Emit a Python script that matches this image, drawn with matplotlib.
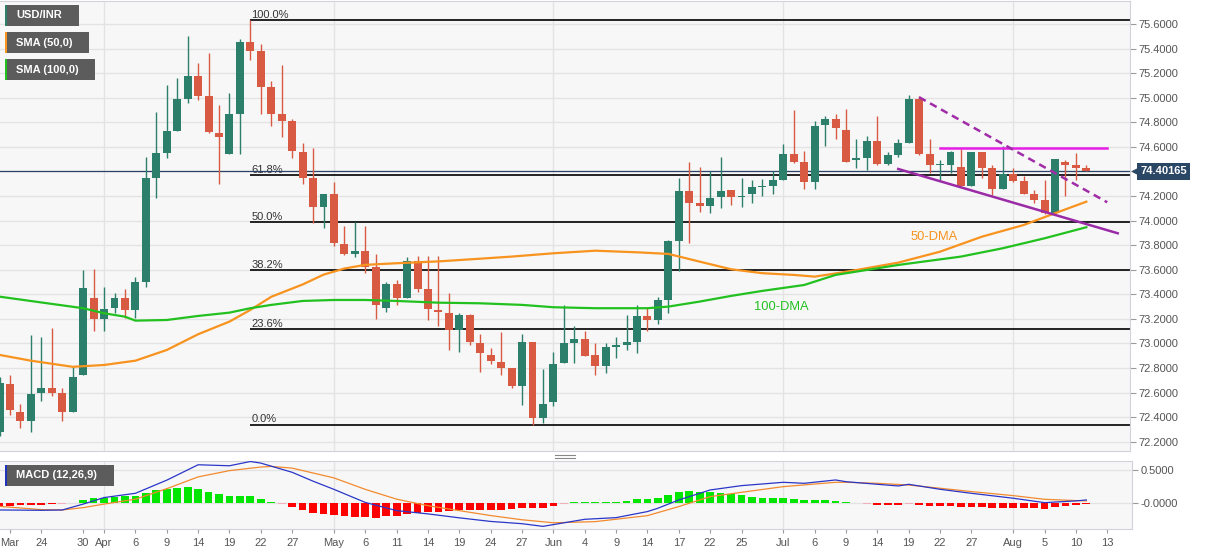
import numpy as np
import pandas as pd
import matplotlib
matplotlib.use('Agg')
import matplotlib.pyplot as plt
from matplotlib.patches import Rectangle
from matplotlib.lines import Line2D

plt.rcParams['font.family'] = ['Liberation Sans', 'DejaVu Sans']

# USD/INR daily candles, weekdays 2021-03-18 .. 2021-08-11
opens = [
    72.28, 72.67, 72.44, 72.37, 72.60, 72.64, 72.60, 72.44, 72.74, 73.37,
    73.20, 73.29, 73.37, 73.27, 73.50, 74.35, 74.55, 74.73, 74.99, 75.18,
    75.01, 74.71, 74.54, 74.87, 75.45, 75.38, 75.09, 74.87, 74.81, 74.56,
    74.35, 74.11, 74.22, 73.81, 73.73, 73.75, 73.62, 73.29, 73.48, 73.37,
    73.67, 73.44, 73.27, 73.25, 73.11, 73.23, 73.00, 72.91, 72.85, 72.80,
    72.65, 73.01, 72.39, 72.52, 72.84, 73.00, 73.04, 72.91, 72.82, 72.97,
    72.99, 73.01, 73.22, 73.19, 73.35, 73.83, 74.24, 74.14, 74.12, 74.19,
    74.25, 74.19, 74.22, 74.27, 74.28, 74.33, 74.54, 74.48, 74.31, 74.78,
    74.83, 74.74, 74.49, 74.51, 74.65, 74.46, 74.53, 74.63, 74.99, 74.54,
    74.45, 74.45, 74.44, 74.28, 74.56, 74.43, 74.26, 74.38, 74.32, 74.22,
    74.17, 74.06, 74.48, 74.45, 74.43,
]
highs = [
    72.73, 72.74, 72.51, 73.07, 73.05, 73.13, 72.64, 72.81, 73.60, 73.61,
    73.46, 73.41, 73.44, 73.54, 74.52, 74.88, 75.10, 75.16, 75.50, 75.28,
    75.36, 74.94, 75.04, 75.48, 75.63, 75.44, 75.14, 75.27, 74.83, 74.63,
    74.59, 74.22, 74.31, 73.96, 73.99, 73.96, 73.73, 73.50, 73.52, 73.70,
    73.71, 73.71, 73.71, 73.41, 73.25, 73.24, 73.08, 72.96, 73.09, 72.80,
    73.08, 73.01, 72.79, 72.93, 73.31, 73.14, 73.10, 73.00, 73.00, 73.05,
    73.23, 73.31, 73.29, 73.38, 73.84, 74.35, 74.48, 74.44, 74.40, 74.52,
    74.25, 74.35, 74.33, 74.34, 74.40, 74.62, 74.90, 74.57, 74.81, 74.85,
    74.87, 74.91, 74.66, 74.69, 74.85, 74.56, 74.66, 75.02, 75.01, 74.66,
    74.49, 74.57, 74.58, 74.56, 74.56, 74.45, 74.61, 74.43, 74.36, 74.25,
    74.33, 74.50, 74.49, 74.55, 74.45,
]
lows = [
    72.25, 72.42, 72.31, 72.28, 72.53, 72.57, 72.37, 72.44, 72.74, 73.10,
    73.10, 73.25, 73.21, 73.21, 73.46, 74.18, 74.51, 74.73, 74.96, 74.98,
    74.71, 74.30, 74.54, 74.54, 75.31, 74.87, 74.77, 74.68, 74.51, 74.30,
    73.98, 73.94, 73.79, 73.72, 73.70, 73.57, 73.20, 73.26, 73.31, 73.37,
    73.42, 73.19, 73.14, 72.95, 72.93, 72.99, 72.77, 72.83, 72.74, 72.64,
    72.50, 72.34, 72.35, 72.49, 72.84, 72.84, 72.90, 72.74, 72.76, 72.88,
    72.95, 72.92, 73.10, 73.16, 73.25, 73.59, 73.82, 74.07, 74.06, 74.10,
    74.13, 74.11, 74.14, 74.20, 74.22, 74.33, 74.47, 74.26, 74.26, 74.61,
    74.66, 74.48, 74.43, 74.41, 74.45, 74.45, 74.52, 74.63, 74.53, 74.39,
    74.33, 74.39, 74.28, 74.28, 74.35, 74.21, 74.26, 74.31, 74.22, 74.14,
    74.05, 74.06, 74.20, 74.33, 74.40,
]
closes = [
    72.68, 72.46, 72.37, 72.59, 72.64, 72.60, 72.44, 72.73, 73.45, 73.20,
    73.28, 73.37, 73.27, 73.50, 74.35, 74.55, 74.73, 74.99, 75.18, 75.01,
    74.72, 74.68, 74.87, 75.45, 75.38, 75.09, 74.87, 74.81, 74.57, 74.35,
    74.11, 74.22, 73.82, 73.73, 73.75, 73.62, 73.31, 73.48, 73.37, 73.67,
    73.44, 73.28, 73.26, 73.11, 73.23, 73.01, 72.92, 72.86, 72.80, 72.65,
    73.01, 72.39, 72.51, 72.83, 73.00, 73.04, 72.90, 72.82, 72.97, 72.99,
    73.01, 73.22, 73.19, 73.35, 73.83, 74.24, 74.14, 74.12, 74.18, 74.24,
    74.19, 74.20, 74.27, 74.28, 74.33, 74.54, 74.48, 74.31, 74.77, 74.83,
    74.75, 74.48, 74.51, 74.65, 74.46, 74.53, 74.63, 74.99, 74.54, 74.45,
    74.455, 74.56, 74.28, 74.56, 74.43, 74.26, 74.38, 74.32, 74.22, 74.17,
    74.06, 74.50, 74.45, 74.43, 74.40165,
]

sma50_dates = ['2021-03-18', '2021-03-23', '2021-03-29', '2021-04-01', '2021-04-06', '2021-04-09',
               '2021-04-14', '2021-04-19', '2021-04-21', '2021-04-23', '2021-04-28', '2021-04-30',
               '2021-05-04', '2021-05-06', '2021-05-11', '2021-05-17', '2021-05-21', '2021-05-26',
               '2021-06-01', '2021-06-07', '2021-06-11', '2021-06-16', '2021-06-21', '2021-06-24',
               '2021-06-29', '2021-07-02', '2021-07-06', '2021-07-08', '2021-07-12', '2021-07-16',
               '2021-07-22', '2021-07-28', '2021-08-03', '2021-08-06', '2021-08-11']
sma50 = [72.907, 72.86, 72.81, 72.825, 72.86, 72.947,
         73.075, 73.178, 73.273, 73.38, 73.48, 73.56,
         73.61, 73.64, 73.653, 73.668, 73.69, 73.707,
         73.734, 73.755, 73.742, 73.729, 73.666, 73.604,
         73.572, 73.558, 73.544, 73.57, 73.598, 73.658,
         73.747, 73.869, 73.964, 74.06, 74.154]

sma100_dates = ['2021-03-18', '2021-03-25', '2021-03-30', '2021-04-01', '2021-04-05', '2021-04-06',
                '2021-04-09', '2021-04-14', '2021-04-19', '2021-04-21', '2021-04-23', '2021-04-28',
                '2021-05-03', '2021-05-06', '2021-05-11', '2021-05-17', '2021-05-21', '2021-05-27',
                '2021-06-01', '2021-06-07', '2021-06-14', '2021-06-16', '2021-06-21', '2021-06-24',
                '2021-06-29', '2021-07-05', '2021-07-08', '2021-07-12', '2021-07-16', '2021-07-26',
                '2021-07-30', '2021-08-05', '2021-08-11']
sma100 = [73.381, 73.322, 73.287, 73.246, 73.218, 73.186,
          73.191, 73.224, 73.251, 73.287, 73.314, 73.346,
          73.354, 73.354, 73.346, 73.332, 73.327, 73.314,
          73.295, 73.287, 73.287, 73.30, 73.341, 73.387,
          73.428, 73.476, 73.558, 73.585, 73.639, 73.707,
          73.775, 73.856, 73.946]

macd_dates = ['2021-03-18', '2021-03-24', '2021-03-26', '2021-03-30', '2021-04-01', '2021-04-06',
              '2021-04-09', '2021-04-14', '2021-04-19', '2021-04-21', '2021-04-22', '2021-04-27',
              '2021-04-29', '2021-05-03', '2021-05-06', '2021-05-11', '2021-05-14', '2021-05-19',
              '2021-05-24', '2021-05-27', '2021-05-31', '2021-06-04', '2021-06-09', '2021-06-14',
              '2021-06-15', '2021-06-17', '2021-06-22', '2021-06-25', '2021-07-01', '2021-07-05',
              '2021-07-08', '2021-07-09', '2021-07-14', '2021-07-16', '2021-07-19', '2021-07-22',
              '2021-07-27', '2021-08-02', '2021-08-05', '2021-08-10', '2021-08-11']
macd = [-0.100, -0.105, -0.100, -0.012, 0.086, 0.150,
        0.347, 0.578, 0.563, 0.627, 0.603, 0.465,
        0.332, 0.209, 0.013, -0.110, -0.159, -0.218,
        -0.272, -0.306, -0.346, -0.240, -0.215, -0.124,
        -0.074, 0.050, 0.200, 0.265, 0.315, 0.300,
        0.350, 0.324, 0.285, 0.260, 0.285, 0.210,
        0.150, 0.076, 0.010, 0.036, 0.050]

signal_dates = ['2021-03-18', '2021-03-24', '2021-03-26', '2021-03-30', '2021-04-01', '2021-04-06',
                '2021-04-09', '2021-04-14', '2021-04-19', '2021-04-22', '2021-04-23', '2021-04-27',
                '2021-05-03', '2021-05-06', '2021-05-11', '2021-05-14', '2021-05-19', '2021-05-24',
                '2021-05-27', '2021-06-01', '2021-06-07', '2021-06-14', '2021-06-17', '2021-06-22',
                '2021-06-25', '2021-07-01', '2021-07-08', '2021-07-09', '2021-07-14', '2021-07-19',
                '2021-07-22', '2021-07-27', '2021-08-02', '2021-08-05', '2021-08-10', '2021-08-11']
signal = [-0.046, -0.095, -0.100, -0.065, -0.012, 0.062,
          0.219, 0.396, 0.490, 0.544, 0.553, 0.528,
          0.381, 0.209, 0.062, -0.036, -0.110, -0.184,
          -0.247, -0.292, -0.275, -0.185, -0.049, 0.100,
          0.165, 0.250, 0.315, 0.315, 0.300, 0.274,
          0.226, 0.176, 0.115, 0.060, 0.041, 0.036]

hist = [
    -0.035, -0.035, -0.03, -0.03, -0.025, -0.01, -0.005, 0.003, 0.049, 0.074,
    0.083, 0.098, 0.108, 0.108, 0.157, 0.196, 0.211, 0.231, 0.246, 0.211,
    0.172, 0.133, 0.108, 0.108, 0.108, 0.064, 0.025, -0.003, -0.049, -0.098,
    -0.138, -0.157, -0.182, -0.196, -0.206, -0.211, -0.221, -0.196, -0.187, -0.157,
    -0.138, -0.133, -0.123, -0.113, -0.098, -0.098, -0.098, -0.098, -0.098, -0.088,
    -0.064, -0.074, -0.064, -0.034, -0.005, 0.015, 0.025, 0.025, 0.025, 0.025,
    0.035, 0.06, 0.06, 0.085, 0.125, 0.175, 0.19, 0.175, 0.175, 0.16,
    0.14, 0.125, 0.10, 0.085, 0.075, 0.075, 0.06, 0.05, 0.05, 0.05,
    0.04, 0.025, 0.003, -0.003, -0.025, -0.025, -0.025, -0.005, -0.025, -0.04,
    -0.04, -0.04, -0.06, -0.06, -0.06, -0.065, -0.065, -0.065, -0.075, -0.075,
    -0.085, -0.05, -0.035, -0.025, -0.015,
]

fib_ratios = [0.0, 0.236, 0.382, 0.5, 0.618, 1.0]
fib_from = '2021-04-21'
fib_low_day = '2021-05-28'

# drawn trend lines: (start date, start price, end date, end price)
resistance = ('2021-07-22', 74.589, '2021-08-13', 74.589)
falling_top = ('2021-07-20', 75.004, '2021-08-13', 74.149)
falling_bottom = ('2021-07-16', 74.42, '2021-08-16', 73.897)

tick_dates = ['2021-03-19', '2021-03-24', '2021-03-30', '2021-04-01', '2021-04-06', '2021-04-09',
              '2021-04-14', '2021-04-19', '2021-04-22', '2021-04-27', '2021-05-03', '2021-05-06',
              '2021-05-11', '2021-05-14', '2021-05-19', '2021-05-24', '2021-05-27', '2021-06-01',
              '2021-06-04', '2021-06-09', '2021-06-14', '2021-06-17', '2021-06-22', '2021-06-25',
              '2021-07-01', '2021-07-06', '2021-07-09', '2021-07-14', '2021-07-19', '2021-07-22',
              '2021-07-27', '2021-08-02', '2021-08-05', '2021-08-10', '2021-08-13']
tick_labels = ['Mar', '24', '30', 'Apr', '6', '9', '14', '19', '22', '27', 'May', '6',
               '11', '14', '19', '24', '27', 'Jun', '4', '9', '14', '17', '22', '25',
               'Jul', '6', '9', '14', '19', '22', '27', 'Aug', '5', '10', '13']

GREEN = '#2b7f6b'
RED = '#d95a43'
ORANGE = '#f7931e'
SMA_GREEN = '#22c11f'

days = pd.bdate_range('2021-03-18', '2021-08-20')
day_pos = {d.strftime('%Y-%m-%d'): i for i, d in enumerate(days)}


def xp(dates):
    return [day_pos[d] for d in dates]


W, H = 1207, 555
fig = plt.figure(figsize=(W / 100, H / 100), dpi=100)
fig.patch.set_facecolor('white')

ax = fig.add_axes([0, 104 / H, 1130 / W, 450 / H])
mx = fig.add_axes([0, 25.7 / H, 1132 / W, 68.6 / H])

x0 = 0.043
ax.set_xlim(x0, x0 + 1130 / 10.45)
mx.set_xlim(x0, x0 + 1132 / 10.45)
ax.set_ylim(72.125, 75.787)
mx.set_ylim(-0.39, 0.639)

for a in (ax, mx):
    a.set_facecolor('#f7f7f7')
    for s in a.spines.values():
        s.set_color('#d2d2da')
        s.set_linewidth(0.8)
    a.spines['left'].set_visible(False)
    a.yaxis.tick_right()
    a.set_axisbelow(True)
    a.grid(axis='y', color='#e3e3e3', lw=1)

month_days = [d for d, t in zip(tick_dates, tick_labels) if not t.isdigit() and t != 'Mar']
for d in month_days:
    ax.axvline(day_pos[d], color='#e3e3e3', lw=1, zorder=0)
    mx.axvline(day_pos[d], color='#e3e3e3', lw=1, zorder=0)

# candles
o = np.array(opens)
h = np.array(highs)
l = np.array(lows)
c = np.array(closes)
xs = np.arange(len(c))
cols = np.where(c >= o, GREEN, RED)
ax.vlines(xs, l, h, colors=cols, lw=1, zorder=3)
ax.bar(xs, np.maximum(np.abs(c - o), 0.01), bottom=np.minimum(o, c), width=0.76,
       color=cols, zorder=4)

# fibonacci retracement
fib_hi = h[day_pos[fib_from]]
fib_lo = l[day_pos[fib_low_day]]
fx = day_pos[fib_from]
for r in fib_ratios:
    lvl = fib_lo + r * (fib_hi - fib_lo)
    ax.hlines(lvl, fx, ax.get_xlim()[1], color='black', lw=1.2, zorder=2)
    ax.text(fx + 0.1, lvl + 0.018, f'{r * 100:.1f}%', fontsize=8, color='#333333',
            va='baseline', ha='left', zorder=2)

last = c[-1]
ax.axhline(last, color='#2a4466', lw=0.9, zorder=2.5)

ax.plot(xp(sma50_dates), sma50, color=ORANGE, lw=1.6, zorder=5)
ax.plot(xp(sma100_dates), sma100, color=SMA_GREEN, lw=1.6, zorder=5)

for line, col, ls in [(resistance, '#e61ee6', '-'), (falling_top, '#a02ca8', (0, (3, 2))),
                      (falling_bottom, '#9a2aa6', '-')]:
    ax.plot([day_pos[line[0]], day_pos[line[2]]], [line[1], line[3]], color=col, lw=1.8,
            linestyle=ls, zorder=6)

ax.text(89.4, 73.87, '50-DMA', color=ORANGE, fontsize=9.3, ha='center', va='center', zorder=6)
ax.text(74.8, 73.30, '100-DMA', color=SMA_GREEN, fontsize=9.3, ha='center', va='center', zorder=6)

yt = np.round(np.arange(72.2, 75.61, 0.2), 1)
ax.set_yticks(yt)
# the 74.4 label sits under the last-price tag
ax.set_yticklabels(['' if abs(v - 74.4) < 1e-6 else f'{v:.4f}' for v in yt])
ax.tick_params(axis='y', length=4, width=0.8, color='#9a9a9a', labelsize=8,
               labelcolor='#555555', pad=2)
ax.set_xticks([])

# last price tag
ax.text(1.009, last, f'{last:.5f}', transform=ax.get_yaxis_transform(), color='white',
        fontsize=8, fontweight='bold', va='center', ha='left', clip_on=False,
        bbox=dict(boxstyle='square,pad=0.3', fc='#2b4766', ec='none'), zorder=10)
ax.plot([1.0045], [last], marker='<', ms=5, color='#2b4766', transform=ax.get_yaxis_transform(),
        clip_on=False, zorder=10)

# MACD panel
hc = []
for v in hist:
    if abs(v) < 0.008:
        hc.append('#a6eea6' if v > 0 else '#f2b0b8')
    else:
        hc.append('#00e600' if v > 0 else '#ff0000')
mx.bar(np.arange(len(hist)), hist, width=0.74, color=hc, zorder=3)
mx.plot(xp(signal_dates), signal, color='#f28a2e', lw=0.9, zorder=4)
mx.plot(xp(macd_dates), macd, color='#2a36c8', lw=0.9, zorder=5)
mx.set_yticks([0.0, 0.5])
mx.set_yticklabels(['-0.0000', '0.5000'])
mx.tick_params(axis='y', length=4, width=0.8, color='#9a9a9a', labelsize=8,
               labelcolor='#555555', pad=2)
mx.set_xticks(xp(tick_dates))
mx.set_xticklabels(tick_labels)
mx.tick_params(axis='x', length=3, width=0.8, color='#9a9a9a', labelsize=8,
               labelcolor='#555555', pad=3)


def tag(x, y, w, hgt, label, stripe):
    fig.add_artist(Rectangle((x / W, 1 - (y + hgt) / H), w / W, hgt / H,
                             transform=fig.transFigure, fc='#5c5c5c', ec='none'))
    fig.add_artist(Rectangle((x / W, 1 - (y + hgt) / H), 2 / W, hgt / H,
                             transform=fig.transFigure, fc=stripe, ec='none'))
    fig.text((x + 11) / W, 1 - (y + hgt / 2) / H, label, color='white', fontsize=8,
             fontweight='bold', va='center', ha='left')


tag(5, 5, 74, 21, 'USD/INR', GREEN)
tag(5, 32, 84, 21, 'SMA (50,0)', ORANGE)
tag(5, 59, 90, 21, 'SMA (100,0)', SMA_GREEN)
tag(5, 465, 109, 21, 'MACD (12,26,9)', '#2233bb')

for yy in (455, 458):
    fig.add_artist(Line2D([555 / W, 575 / W], [1 - yy / H, 1 - yy / H], color='#888888', lw=0.8))

fig.savefig('out.png', dpi=100)
